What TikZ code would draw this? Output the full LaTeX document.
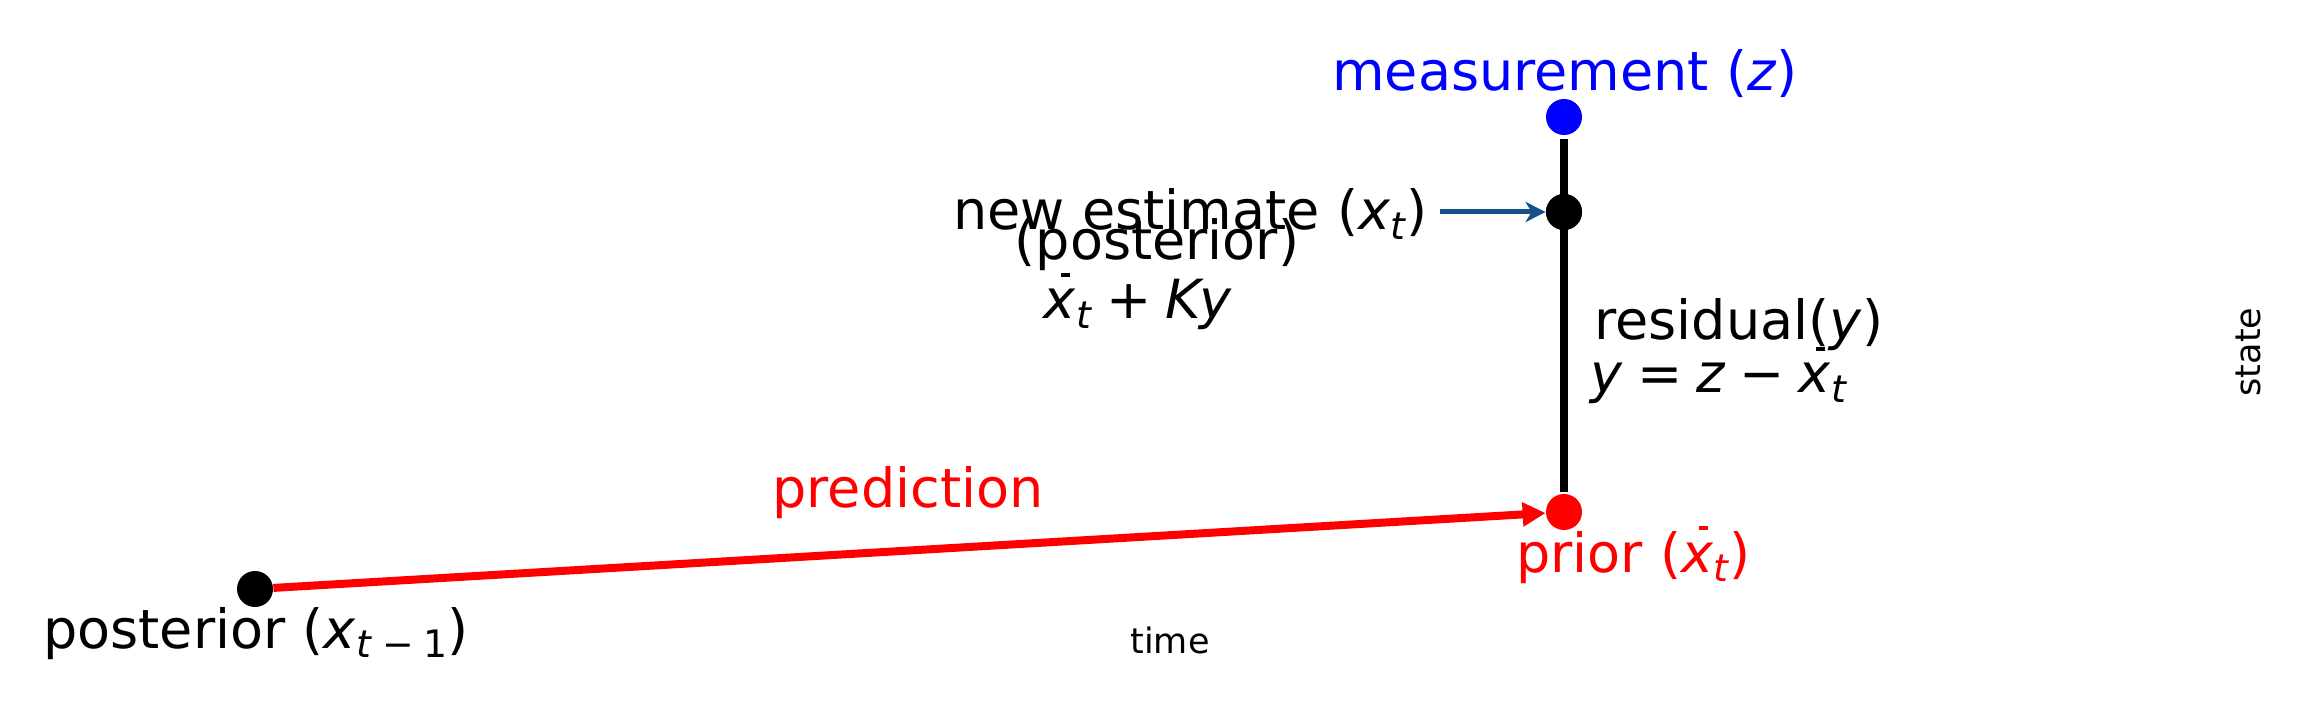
\documentclass[tikz,border=0pt]{standalone}
\usepackage{fontspec}
\setmainfont{DejaVu Sans}
\usepackage{graphicx}
\usetikzlibrary{arrows.meta}
\definecolor{arrowblue}{RGB}{22,80,140}
\newcommand\sbs[1]{\raisebox{-0.17em}{\scalebox{0.7}{#1}}}
\newcommand\xb{\makebox[0pt][l]{\hspace{0.32em}\rule[0.78em]{0.17em}{0.065em}}\textit{x}}
\newcommand\mop[1]{\hspace{0.26em}#1\hspace{0.26em}}
\begin{document}
\begin{tikzpicture}[x=0.5pt,y=-0.5pt,
  mdot/.style={circle,fill=#1,inner sep=0pt,minimum size=18pt},
  big/.style={font=\fontsize{27}{32}\selectfont, inner sep=0pt},
  small/.style={font=\fontsize{17.5}{21}\selectfont, inner sep=0pt},
  thickline/.style={line width=4pt}]
\useasboundingbox (0,0) rectangle (2302,716);
% dots
\node[mdot=black] (P0) at (255,589) {};
\node[mdot=red] (P1) at (1564,512) {};
\node[mdot=black] (N) at (1564,212) {};
\node[mdot=blue] (M) at (1564,117) {};
% connectors
\draw[thickline, shorten <=2pt, shorten >=1pt] (M) -- (P1);
\node[mdot=black] at (N) {};
\draw[thickline, red, -{Triangle[length=11.5pt,width=11.5pt]}] (P0) -- (P1);
\coordinate (NS) at (1440,212);
\draw[arrowblue, line width=2.5pt, -{Stealth[length=10pt,width=10pt,inset=3pt]}] (NS) -- (N);
% labels
\node[big, text=blue, anchor=base] (lm) at (1565,91) {measurement (\textit{z})};
\node[big, anchor=base east] (lne) at (1428,230) {new estimate (\textit{x}\sbs{\textit{t}})};
\node[big, anchor=base] (lpo) at (1157,260) {(posterior)};
\node[big, anchor=base] (lky) at (1138,319) {\xb\sbs{\textit{t}}\mop{+}\textit{Ky}};
\node[big, anchor=base west] (lres) at (1594,340) {residual(\textit{y})};
\node[big, anchor=base west] (leq) at (1590,393) {\textit{y}\mop{=}\textit{z}\mop{−}\xb\sbs{\textit{t}}};
\node[big, text=red, anchor=base west] (lpr) at (1516,572) {prior (\xb\sbs{\textit{t}})};
\node[big, text=red, anchor=base] (lpd) at (908,508) {prediction};
\node[big, anchor=base] (lp0) at (256,648) {posterior (\textit{x}\sbs{\textit{t}\mop{−}1})};
\node[small, anchor=base] (lt) at (1170,653) {time};
\node[small, rotate=90, anchor=base] (ls) at (2260,352) {state};
\end{tikzpicture}
\end{document}
